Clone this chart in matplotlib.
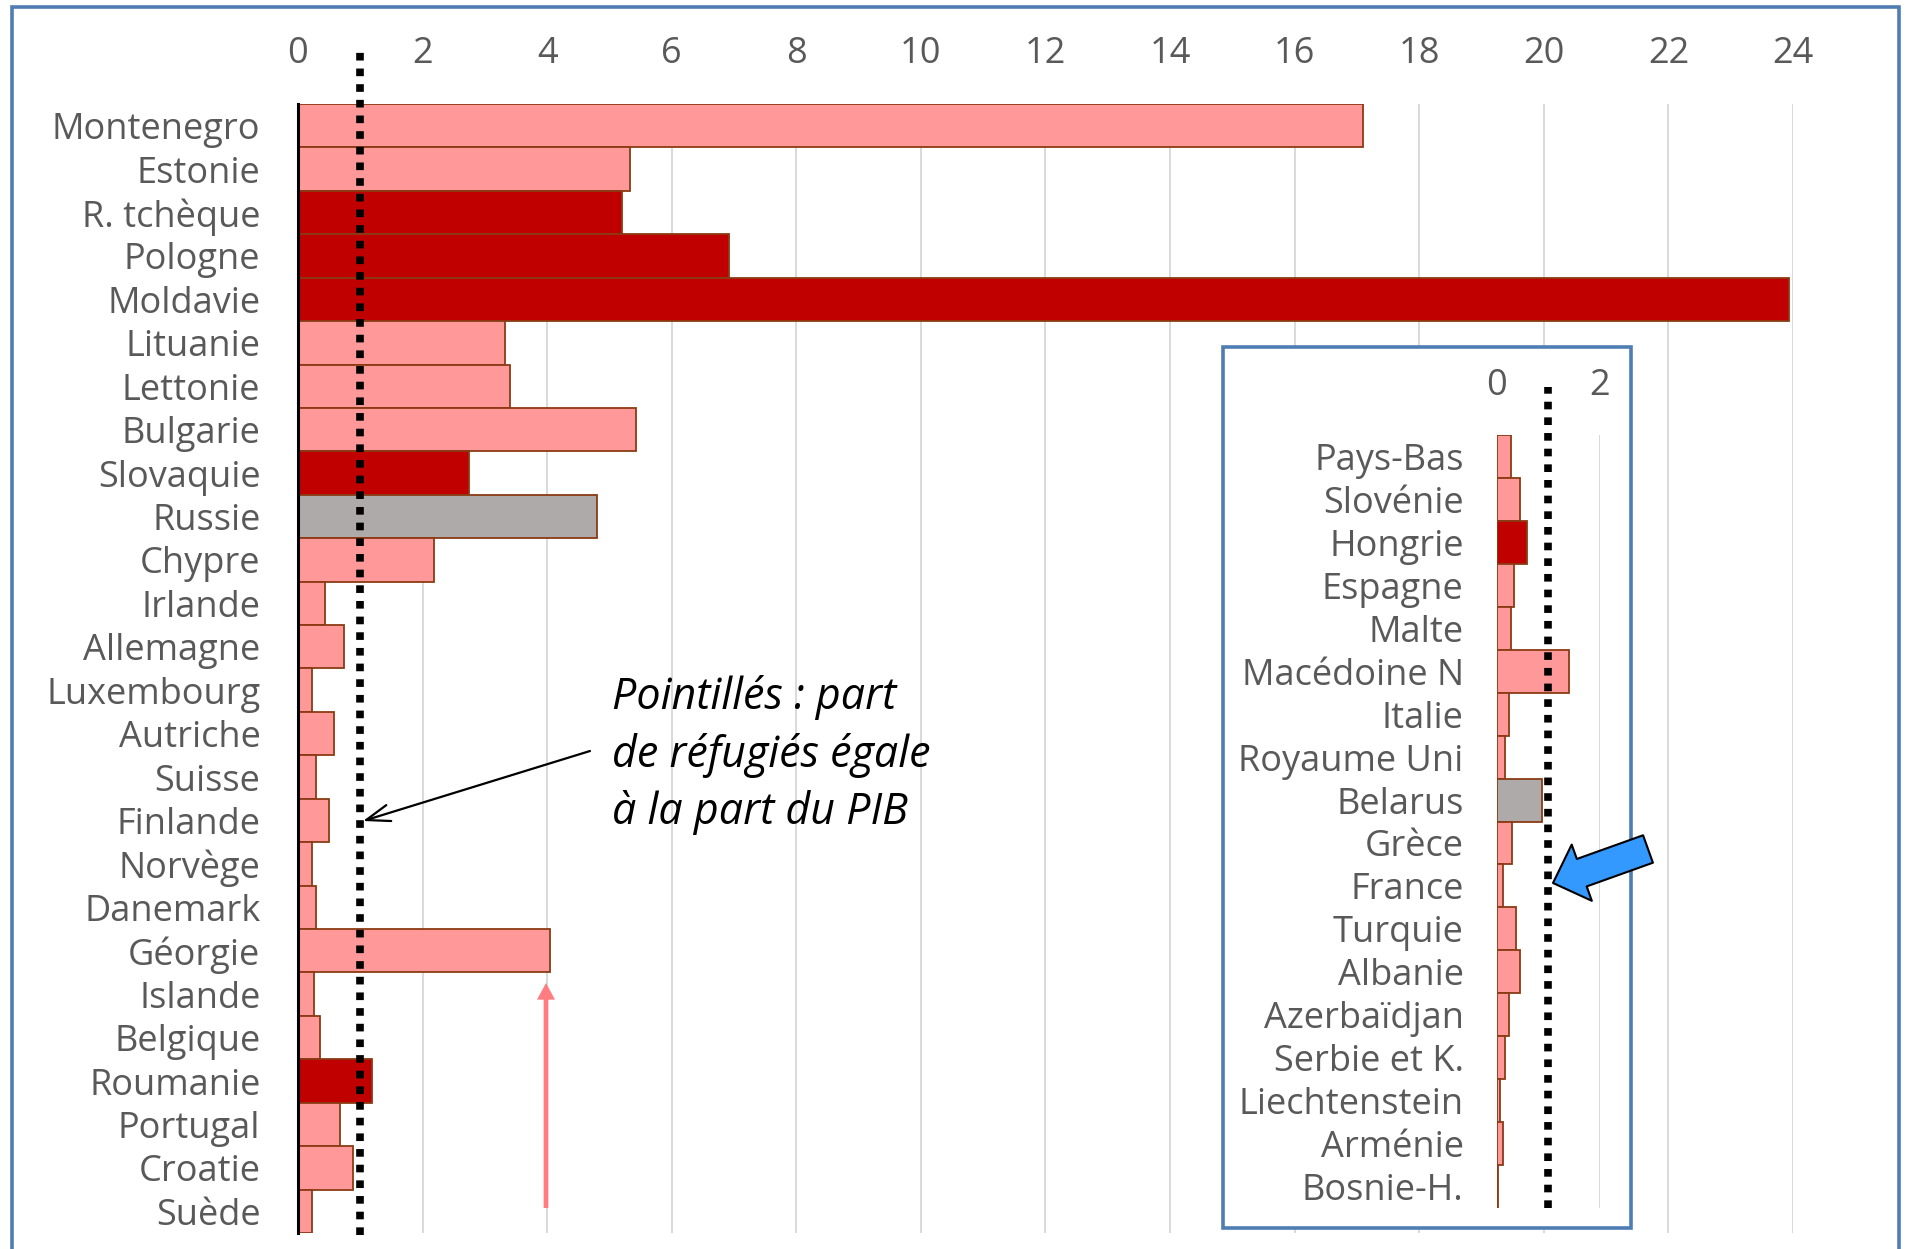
import matplotlib
matplotlib.use("Agg")
import matplotlib.pyplot as plt
from matplotlib.patches import Rectangle, FancyArrowPatch

# ---------------- data ----------------
main_countries = ["Montenegro", "Estonie", "R. tchèque", "Pologne", "Moldavie",
                  "Lituanie", "Lettonie", "Bulgarie", "Slovaquie", "Russie",
                  "Chypre", "Irlande", "Allemagne", "Luxembourg", "Autriche",
                  "Suisse", "Finlande", "Norvège", "Danemark", "Géorgie",
                  "Islande", "Belgique", "Roumanie", "Portugal", "Croatie", "Suède"]
main_values = [17.1, 5.33, 5.2, 6.92, 23.93,
               3.32, 3.4, 5.43, 2.75, 4.8,
               2.19, 0.43, 0.74, 0.22, 0.58,
               0.29, 0.49, 0.22, 0.29, 4.04,
               0.25, 0.35, 1.18, 0.67, 0.88, 0.22]
main_groups = ["autre", "autre", "voisin", "voisin", "voisin",
               "autre", "autre", "autre", "voisin", "agresseur",
               "autre", "autre", "autre", "autre", "autre",
               "autre", "autre", "autre", "autre", "autre",
               "autre", "autre", "voisin", "autre", "autre", "autre"]

inset_countries = ["Pays-Bas", "Slovénie", "Hongrie", "Espagne", "Malte",
                   "Macédoine N", "Italie", "Royaume Uni", "Belarus", "Grèce",
                   "France", "Turquie", "Albanie", "Azerbaïdjan", "Serbie et K.",
                   "Liechtenstein", "Arménie", "Bosnie-H."]
inset_values = [0.27, 0.44, 0.58, 0.33, 0.27,
                1.40, 0.23, 0.16, 0.88, 0.30,
                0.12, 0.37, 0.44, 0.23, 0.16,
                0.05, 0.12, 0.02]
inset_groups = ["autre", "autre", "voisin", "autre", "autre",
                "autre", "autre", "autre", "agresseur", "autre",
                "autre", "autre", "autre", "autre", "autre",
                "autre", "autre", "autre"]

main_ticks = list(range(0, 25, 2))
inset_ticks = [0, 2]
parity = 1.0  # part de réfugiés = part du PIB

# ---------------- style ----------------
FONT = "Open Sans"
plt.rcParams["font.family"] = [FONT, "DejaVu Sans"]
colors = {"autre": "#FF9999", "voisin": "#C00000", "agresseur": "#AEAAAA"}
EDGE = "#8B3A14"
GRID = "#D9D9D9"
LABEL = "#595959"
BLUE = "#4F7DB3"
FS = 26

W, H = 1908, 1249
fig = plt.figure(figsize=(W / 100, H / 100), dpi=100)
fig.patch.set_facecolor("white")


def fx(px):
    return px / W


def fy(py):
    return 1 - py / H


# ---------------- main axes ----------------
ax = fig.add_axes([fx(298), fy(1233), fx(1793) - fx(298), fy(104) - fy(1233)])
ypos = list(range(len(main_countries)))
ax.barh(ypos, main_values, height=1.0,
        color=[colors[g] for g in main_groups], edgecolor=EDGE, linewidth=1.3, zorder=2)
ax.set_ylim(len(main_countries) - 0.5, -0.5)
ax.set_xlim(0, 24)
ax.set_xticks(main_ticks)
ax.set_xticklabels([str(t) for t in main_ticks])
ax.set_yticks(ypos)
ax.set_yticklabels(main_countries)
ax.xaxis.tick_top()
ax.tick_params(axis="x", length=0, pad=23, labelsize=FS, labelcolor=LABEL)
ax.tick_params(axis="y", length=0, pad=27, labelsize=FS, labelcolor=LABEL)
ax.grid(axis="x", color=GRID, linewidth=1.4, zorder=0)
ax.set_axisbelow(True)
for s in ["top", "right", "bottom"]:
    ax.spines[s].set_visible(False)
ax.spines["left"].set_color("black")
ax.spines["left"].set_linewidth(2.2)
ax.spines["left"].set_zorder(3)
ax.plot([parity, parity], [-0.002, 1.05], transform=ax.get_xaxis_transform(),
        color="black", linewidth=5.5, linestyle=(0, (1, 1.05)),
        solid_capstyle="butt", dash_capstyle="butt", clip_on=False, zorder=4)

# ---------------- inset ----------------
fig.add_artist(Rectangle((fx(1223), fy(1228)), fx(1631) - fx(1223), fy(347) - fy(1228),
                         transform=fig.transFigure, facecolor="white", edgecolor=BLUE,
                         linewidth=2.6, zorder=1.5))
axi = fig.add_axes([fx(1497), fy(1208), fx(1600) - fx(1497), fy(435) - fy(1208)])
axi.set_zorder(2)
axi.patch.set_visible(False)
ypi = list(range(len(inset_countries)))
axi.barh(ypi, inset_values, height=1.0,
         color=[colors[g] for g in inset_groups], edgecolor=EDGE, linewidth=1.3, zorder=2)
axi.set_ylim(len(inset_countries) - 0.5, -0.5)
axi.set_xlim(0, 2)
axi.set_xticks(inset_ticks)
axi.set_xticklabels([str(t) for t in inset_ticks])
axi.set_yticks(ypi)
axi.set_yticklabels(inset_countries)
axi.xaxis.tick_top()
axi.tick_params(axis="x", length=0, pad=22, labelsize=FS, labelcolor=LABEL)
axi.tick_params(axis="y", length=0, pad=24, labelsize=FS, labelcolor=LABEL)
axi.grid(axis="x", color=GRID, linewidth=1.4, zorder=0)
axi.set_axisbelow(True)
for s in axi.spines.values():
    s.set_visible(False)
axi.plot([parity, parity], [0.0, 1.062], transform=axi.get_xaxis_transform(),
         color="black", linewidth=5.5, linestyle=(0, (1, 1.05)),
         solid_capstyle="butt", dash_capstyle="butt", clip_on=False, zorder=4)

# ---------------- outer frame ----------------
fig.add_artist(Rectangle((fx(12), -0.05), fx(1899) - fx(12), fy(7) + 0.05,
                         transform=fig.transFigure, fill=False, edgecolor=BLUE,
                         linewidth=2.6, zorder=5, clip_on=False))

# ---------------- annotations ----------------
fig.text(fx(612), fy(755), "Pointillés : part\nde réfugiés égale\nà la part du PIB",
         fontsize=31, style="italic", color="black", ha="left", va="center",
         linespacing=1.38, zorder=6)

fig.add_artist(FancyArrowPatch((fx(590), fy(751)), (fx(363), fy(821)),
                               transform=fig.transFigure,
                               arrowstyle="->,head_length=17,head_width=6",
                               mutation_scale=1, color="black", linewidth=1.6,
                               shrinkA=0, shrinkB=0, zorder=6))

fig.add_artist(FancyArrowPatch((fx(546), fy(1208)), (fx(546), fy(983)),
                               transform=fig.transFigure,
                               arrowstyle="simple,head_length=12,head_width=13,tail_width=3.4",
                               mutation_scale=1, facecolor="#FF7C80", edgecolor="none",
                               shrinkA=0, shrinkB=0, zorder=6))

fig.add_artist(FancyArrowPatch((fx(1648), fy(849)), (fx(1553), fy(883)),
                               transform=fig.transFigure,
                               arrowstyle="simple,head_length=22,head_width=43,tail_width=21",
                               mutation_scale=1, facecolor="#3399FF", edgecolor="black",
                               linewidth=1.5, shrinkA=0, shrinkB=0, zorder=7))

fig.savefig("out.png", dpi=100, facecolor="white")
